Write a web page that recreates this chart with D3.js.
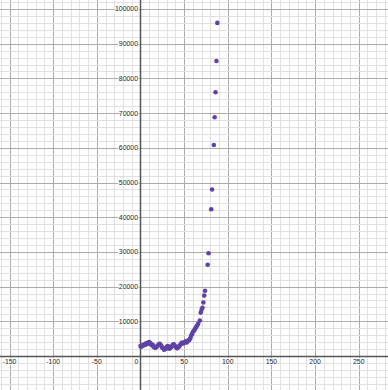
<!DOCTYPE html>
<html>
<head>
<meta charset="utf-8">
<script src="https://cdnjs.cloudflare.com/ajax/libs/d3/7.8.5/d3.min.js"></script>
<style>
  body { margin: 0; background: #fff; }
  .lbl { font-family: "Liberation Sans", Arial, sans-serif; font-size: 6.9px; fill: #222;
         paint-order: stroke; stroke: #fff; stroke-width: 2px; stroke-linejoin: round; }
</style>
</head>
<body>
<div class="chart"></div>
<script>
// day index and value
var days = [0,1,2,3,4,5,6,7,8,9,10,11,12,13,14,15,16,17,18,19,20,21,22,23,24,25,26,27,28,29,
  30,31,32,33,34,35,36,37,38,39,40,41,42,43,44,45,46,47,48,49,50,51,52,53,54,55,56,57,58,59,
  60,61,62,63,64,65,66,68,69,70,71,72,73,74,77,78,81,82,84,85,86,87,88];
var values = [2900,2700,3100,3000,3300,3200,3600,3400,3800,3600,4000,3700,3500,3100,3200,2700,2600,2300,2600,2800,
  3100,3300,3500,3200,2900,2400,2200,1800,2000,2100,2600,2900,2700,2100,2300,2500,2800,3200,3400,3100,
  2800,2400,2200,2500,2700,3000,3400,3700,3900,3600,3800,4000,4200,3900,4300,4500,4600,5100,5800,6300,
  6900,7200,7600,8000,8500,8800,9300,10200,12500,13300,13900,15400,17400,18800,26300,29600,42300,48000,60800,68800,
  76000,85000,96000];

var xTicks = [-150,-100,-50,0,50,100,150,200,250];
var yTicks = [10000,20000,30000,40000,50000,60000,70000,80000,90000,100000];

var width = 388, height = 390;

var x = d3.scaleLinear().domain([-160.9, 283.5]).range([0, width]);
var y = d3.scaleLinear().domain([-9800, 102600]).range([height, 0]);

// snap grid lines to the pixel grid so they stay crisp
function px(v) { return Math.round(v) + 0.5; }

var svg = d3.select(".chart").append("svg")
    .attr("width", width)
    .attr("height", height);

// grid
svg.append("g").selectAll("line")
    .data(d3.range(-160, 290, 10))
  .enter().append("line")
    .attr("x1", function(d) { return px(x(d)); })
    .attr("x2", function(d) { return px(x(d)); })
    .attr("y1", 0).attr("y2", height)
    .attr("stroke", function(d) { return d % 50 === 0 ? "#ababab" : "#e0e0e0"; })
    .attr("stroke-width", 1);

svg.append("g").selectAll("line")
    .data(d3.range(-8000, 104000, 2000))
  .enter().append("line")
    .attr("y1", function(d) { return px(y(d)); })
    .attr("y2", function(d) { return px(y(d)); })
    .attr("x1", 0).attr("x2", width)
    .attr("stroke", function(d) { return d % 10000 === 0 ? "#ababab" : "#e0e0e0"; })
    .attr("stroke-width", 1);

// axes
svg.append("line")
    .attr("x1", px(x(0))).attr("x2", px(x(0)))
    .attr("y1", 0).attr("y2", height)
    .attr("stroke", "#555").attr("stroke-width", 1.5);
svg.append("line")
    .attr("x1", 0).attr("x2", width)
    .attr("y1", px(y(0))).attr("y2", px(y(0)))
    .attr("stroke", "#555").attr("stroke-width", 1.5);

// tick labels
svg.append("g").selectAll("text")
    .data(xTicks)
  .enter().append("text")
    .attr("class", "lbl")
    .attr("x", function(d) { return d === 0 ? x(0) - 4 : x(d); })
    .attr("y", y(0) + 8.5)
    .attr("text-anchor", "middle")
    .text(function(d) { return d; });

svg.append("g").selectAll("text")
    .data(yTicks)
  .enter().append("text")
    .attr("class", "lbl")
    .attr("x", x(0) - 2.5)
    .attr("y", function(d) { return y(d); })
    .attr("dy", "0.35em")
    .attr("text-anchor", "end")
    .text(function(d) { return d; });

// points
svg.append("g").selectAll("circle")
    .data(days)
  .enter().append("circle")
    .attr("r", 2.3)
    .attr("cx", function(d) { return x(d); })
    .attr("cy", function(d, i) { return y(values[i]); })
    .attr("fill", "#6042a6");
</script>
</body>
</html>
